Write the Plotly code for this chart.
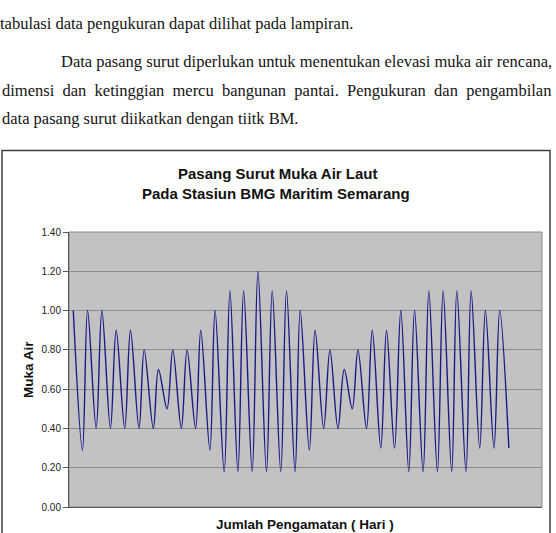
import plotly.graph_objects as go

# ---- data (time in hours, water level in m) ----
jam = [0, 16, 25, 40, 50, 65, 75, 90, 100, 115,
       124, 140, 149, 164, 174, 189, 199, 214, 223, 239,
       248, 264, 274, 288, 298, 313, 323, 338, 348, 363,
       373, 388, 397, 413, 423, 438, 449, 463, 474, 488,
       498, 513, 523, 538, 548, 562, 573, 587, 597, 612,
       622, 637, 647, 662, 671, 687, 696, 711, 721, 736,
       746, 762]
muka_air = [1.00, 0.29, 1.00, 0.40, 1.00, 0.40, 0.90, 0.40, 0.90, 0.40,
            0.80, 0.40, 0.70, 0.50, 0.80, 0.40, 0.80, 0.40, 0.90, 0.29,
            1.00, 0.18, 1.10, 0.18, 1.10, 0.18, 1.20, 0.18, 1.10, 0.18,
            1.10, 0.18, 1.00, 0.29, 0.90, 0.40, 0.80, 0.40, 0.70, 0.50,
            0.80, 0.40, 0.90, 0.30, 0.90, 0.30, 1.00, 0.18, 1.00, 0.18,
            1.10, 0.18, 1.10, 0.18, 1.10, 0.18, 1.10, 0.30, 1.00, 0.30,
            1.00, 0.30]
y_ticks = [0.0, 0.2, 0.4, 0.6, 0.8, 1.0, 1.2, 1.4]
y_ticklabels = ["0.00", "0.20", "0.40", "0.60", "0.80", "1.00", "1.20", "1.40"]

title_lines = ["Pasang Surut Muka Air Laut", "Pada Stasiun BMG Maritim Semarang"]
x_title = "Jumlah Pengamatan ( Hari )"
y_title = "Muka Air"
body_lines = [
    "tabulasi data pengukuran dapat dilihat pada lampiran.",
    "Data pasang surut diperlukan untuk menentukan elevasi muka air rencana,",
    "dimensi dan ketinggian mercu bangunan pantai. Pengukuran dan pengambilan",
    "data pasang surut diikatkan dengan tiitk BM.",
]

W, H = 556, 533
L, R, T, B = 69, 542, 232, 507


def xp(px):
    return (px - L) / (R - L)


def yp(py):
    return (B - py) / (B - T)


def justify(line, extra):
    # widen word gaps with non-breaking spaces (justified paragraph line)
    return (" " + "\u00a0" * extra).join(line.split(" "))


fig = go.Figure()
fig.add_trace(go.Scatter(
    x=jam, y=muka_air, mode="lines",
    line=dict(color="#1a1a86", width=1.4, shape="spline", smoothing=1.0),
    showlegend=False, hoverinfo="skip",
))

annotations = []
serif = dict(family="Liberation Serif", size=16.5, color="#141414")
annotations.append(dict(text=body_lines[0], x=xp(-2), y=yp(23), xanchor="left", yanchor="middle",
                        xref="paper", yref="paper", showarrow=False, font=serif))
annotations.append(dict(text=body_lines[1], x=xp(554), y=yp(61), xanchor="right", yanchor="middle",
                        xref="paper", yref="paper", showarrow=False, font=serif))
annotations.append(dict(text=justify(body_lines[2], 1), x=xp(0), y=yp(90), xanchor="left",
                        yanchor="middle", xref="paper", yref="paper", showarrow=False, font=serif))
annotations.append(dict(text=body_lines[3], x=xp(0), y=yp(118), xanchor="left", yanchor="middle",
                        xref="paper", yref="paper", showarrow=False, font=serif))

sans_b = dict(family="Liberation Sans", size=15, color="#111111")
annotations.append(dict(text="<b>" + title_lines[0] + "</b>", x=xp(277), y=yp(173), xanchor="center",
                        yanchor="middle", xref="paper", yref="paper", showarrow=False, font=sans_b))
annotations.append(dict(text="<b>" + title_lines[1] + "</b>", x=xp(276), y=yp(193), xanchor="center",
                        yanchor="middle", xref="paper", yref="paper", showarrow=False, font=sans_b))
annotations.append(dict(text="<b>" + y_title + "</b>", x=xp(28), y=yp(370), xanchor="center",
                        yanchor="middle", textangle=-90, xref="paper", yref="paper", showarrow=False,
                        font=dict(family="Liberation Sans", size=13.5, color="#111111")))
annotations.append(dict(text="<b>" + x_title + "</b>", x=xp(305), y=yp(524.5), xanchor="center",
                        yanchor="middle", xref="paper", yref="paper", showarrow=False,
                        font=dict(family="Liberation Sans", size=13.5, color="#111111")))

shapes = [
    # outer chart border
    dict(type="rect", xref="paper", yref="paper", x0=xp(2), x1=xp(550), y0=yp(545), y1=yp(150.5),
         line=dict(color="#3c3c3c", width=1.5), fillcolor="rgba(0,0,0,0)", layer="below"),
    # plot area border
    dict(type="rect", xref="paper", yref="paper", x0=0, x1=1, y0=0, y1=1,
         line=dict(color="#8a8a8a", width=1), fillcolor="rgba(0,0,0,0)", layer="below"),
]

fig.update_layout(
    width=W, height=H,
    margin=dict(l=L, r=W - R, t=T, b=H - B, pad=0),
    paper_bgcolor="white",
    plot_bgcolor="#c2c2c2",
    annotations=annotations,
    shapes=shapes,
    xaxis=dict(range=[-7.5, 820], showgrid=False, zeroline=False, showticklabels=False,
               ticks="", showline=True, linecolor="#555555", linewidth=1, fixedrange=True),
    yaxis=dict(range=[0, 1.4], tickvals=y_ticks, ticktext=y_ticklabels, showgrid=True,
               gridcolor="#8c8c8c", gridwidth=1, zeroline=False, showline=True,
               linecolor="#555555", linewidth=1, ticks="outside", ticklen=5, tickcolor="#555555",
               tickfont=dict(family="Liberation Sans", size=10, color="#222222"), fixedrange=True),
)

fig.write_html("out.html")
